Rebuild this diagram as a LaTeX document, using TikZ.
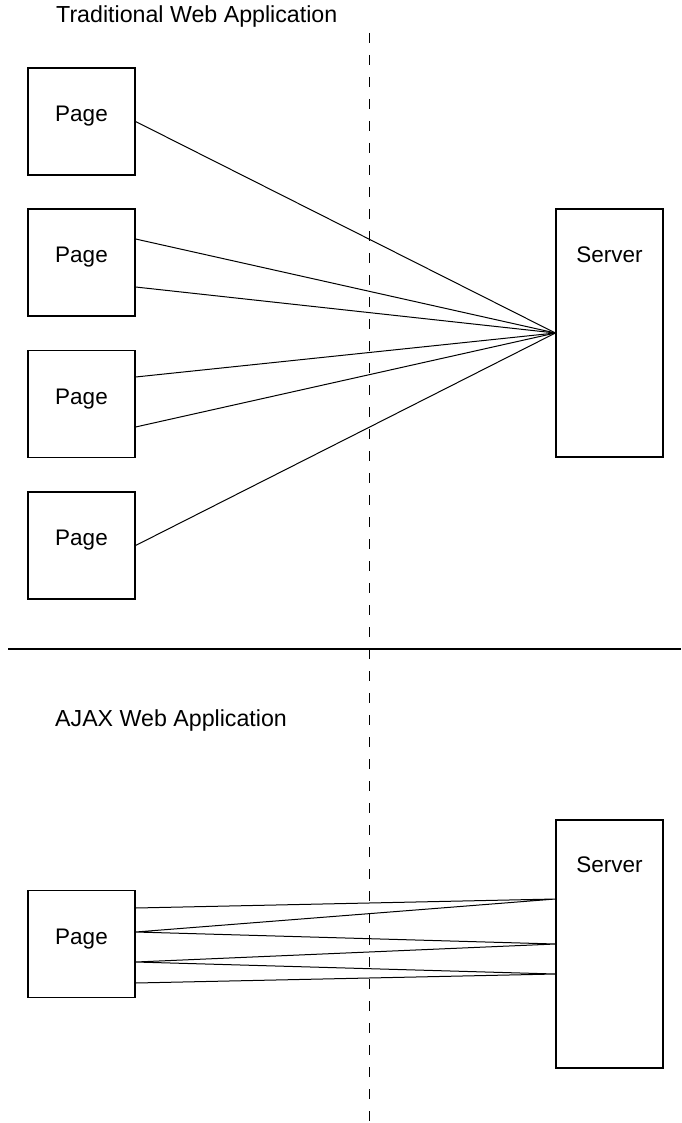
\documentclass[tikz,border=0pt]{standalone}
\usepackage{fontspec}
\setmainfont{Liberation Sans}
\usetikzlibrary{calc}
\tikzset{
  box/.style={draw=black, line width=1.2pt, minimum width=107pt, minimum height=107pt, inner sep=0pt, text height=12pt, text depth=12pt, font=\fontsize{22.5}{26}\selectfont},
  serverbox/.style={draw=black, line width=1.2pt, minimum width=107pt, minimum height=248pt, inner sep=0pt},
  lbl/.style={font=\fontsize{22.5}{26}\selectfont, inner sep=0pt},
  ttl/.style={font=\fontsize{23.2}{27}\selectfont, inner sep=0pt},
  conn/.style={draw=black, line width=1pt},
  sep/.style={draw=black, line width=2.2pt},
  divider/.style={draw=black, line width=1pt, dash pattern=on 10pt off 12pt}
}
\begin{document}
\begin{tikzpicture}[x=1pt,y=-1pt]
\useasboundingbox[fill=white] (0,0) rectangle (681,1123);

% divider
\coordinate (dtop) at (369,33);
\coordinate (dbot) at (369,1123);
\draw[divider] (dtop) -- (dbot);

% separator
\coordinate (sl) at (8,649);
\coordinate (sr) at (681,649);
\draw[sep] (sl) -- (sr);

% titles
\node[ttl, anchor=base west] (t1) at (56,23) {Traditional Web Application};
\node[ttl, anchor=base west] (t2) at (55,726) {AJAX Web Application};

% traditional
\node[box] (p1) at (81.5,121.5) {Page};
\node[box] (p2) at (81.5,262.5) {Page};
\node[box] (p3) at (81.5,404) {Page};
\node[box] (p4) at (81.5,545.5) {Page};
\node[serverbox] (s1) at (609.5,333) {};
\node[lbl, anchor=base] (s1t) at ($(s1.north)+(0,54)$) {Server};

\draw[conn] (p1.east) -- (s1.west);
\draw[conn] ([yshift=23.5pt]p2.east) -- (s1.west);
\draw[conn] ([yshift=-24.5pt]p2.east) -- (s1.west);
\draw[conn] ([yshift=27pt]p3.east) -- (s1.west);
\draw[conn] ([yshift=-23pt]p3.east) -- (s1.west);
\draw[conn] (p4.east) -- (s1.west);

% ajax
\node[box] (pa) at (81.5,944) {Page};
\node[serverbox] (s2) at (609.5,944) {};
\node[lbl, anchor=base] (s2t) at ($(s2.north)+(0,53)$) {Server};

\draw[conn] ([yshift=36pt]pa.east) -- ([yshift=45pt]s2.west)
  -- ([yshift=12pt]pa.east) -- (s2.west)
  -- ([yshift=-18pt]pa.east) -- ([yshift=-30pt]s2.west)
  -- ([yshift=-39pt]pa.east);
\end{tikzpicture}
\end{document}
